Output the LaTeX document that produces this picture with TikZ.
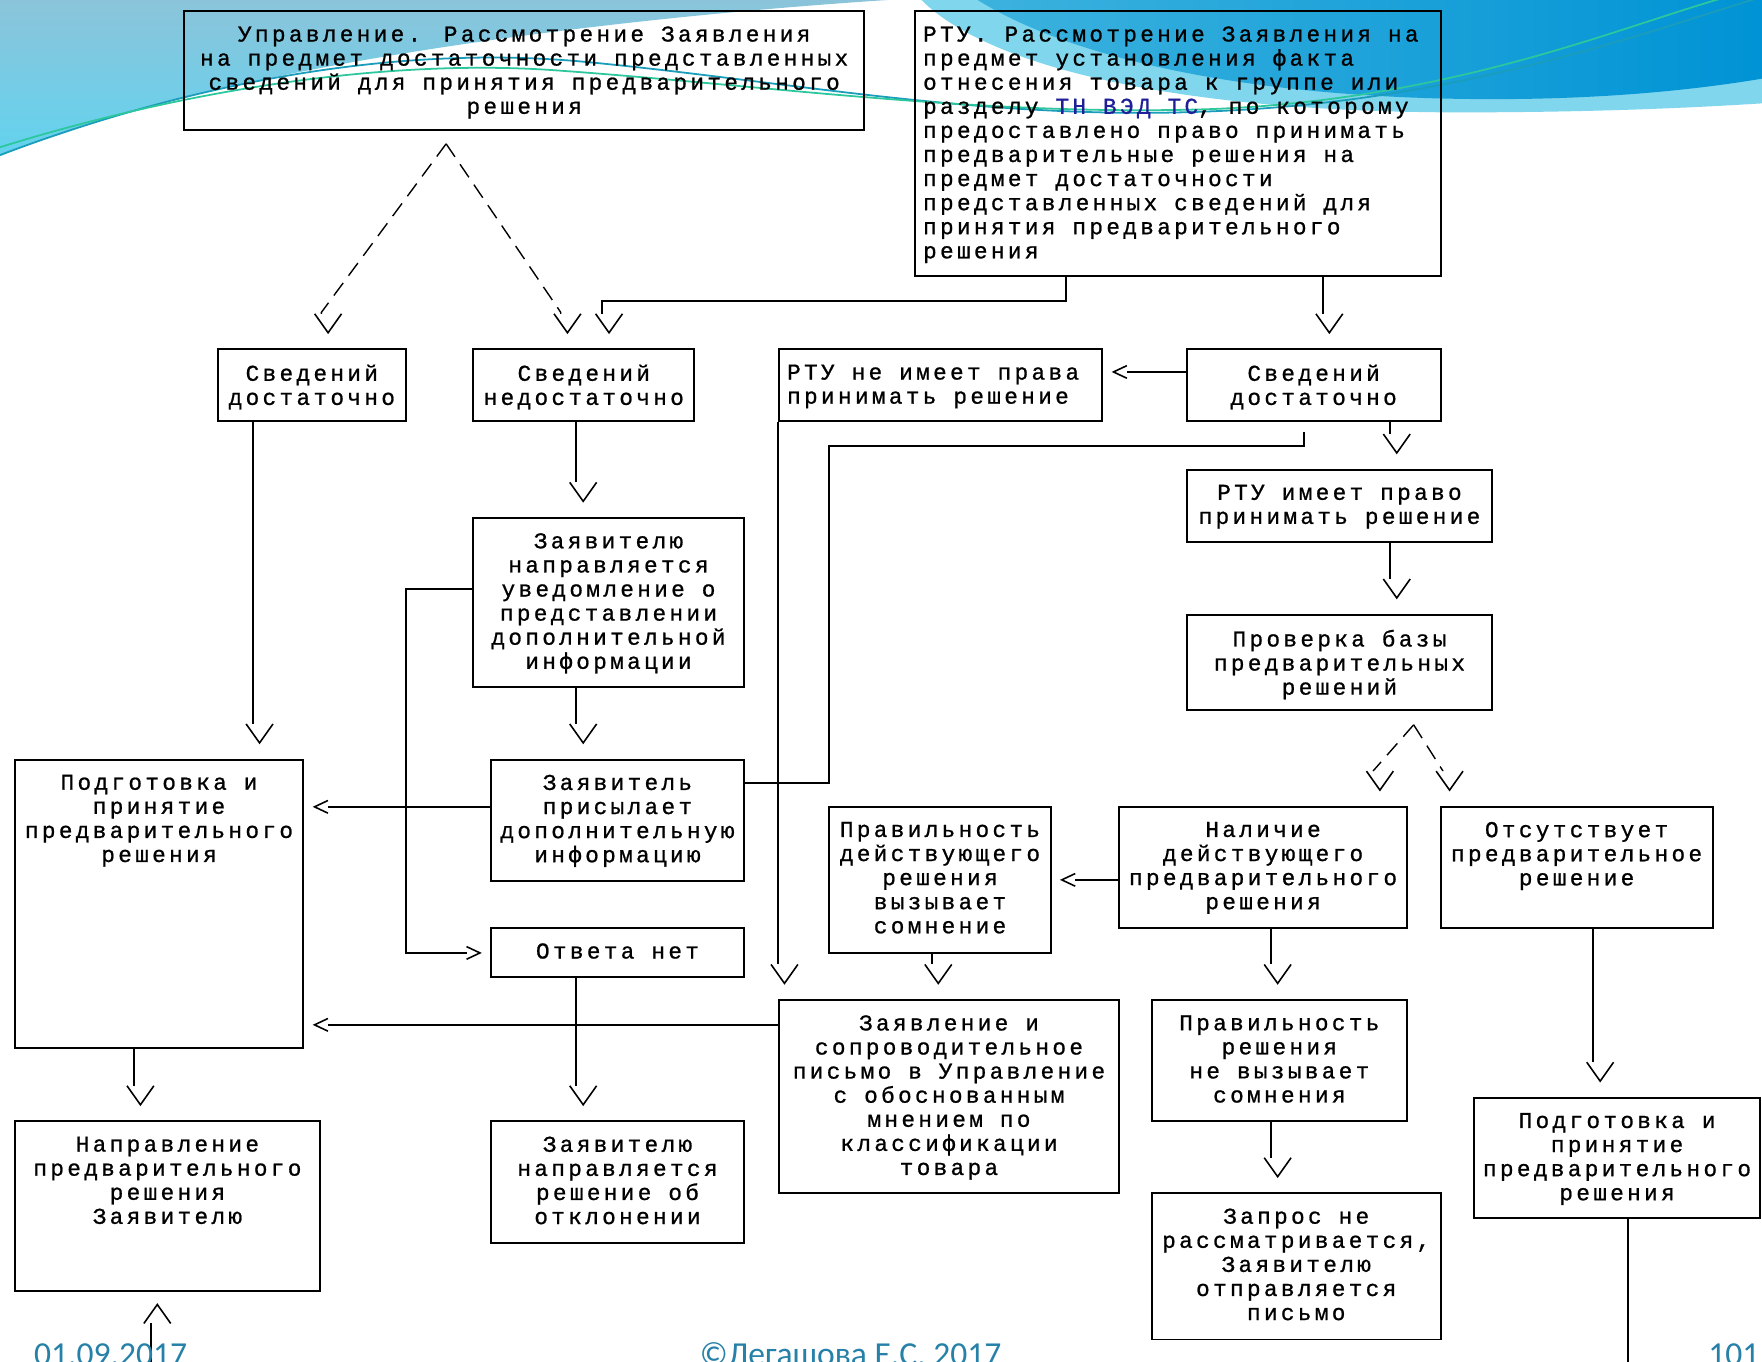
\documentclass[tikz,border=0pt]{standalone}
\usepackage{fontspec}
\newfontfamily\monofnt[LetterSpace=14.7,FakeBold=0.9]{Liberation Mono}
\newfontfamily\footfnt{Carlito}
\usetikzlibrary{calc,fit,arrows.meta}
\definecolor{tnblue}{HTML}{1F1F99}
\definecolor{footc}{HTML}{2681A8}
\definecolor{bgsteel}{HTML}{8BC4DA}
\definecolor{bgcyan}{HTML}{62D3EF}
\definecolor{bgband}{HTML}{80D6EC}
\definecolor{bgdarkL}{HTML}{3CB2DE}
\definecolor{bgdarkR}{HTML}{0093D5}
\definecolor{swteal}{HTML}{1A9DBB}
\definecolor{swgreen}{HTML}{2CC79C}
\newcommand\boxfont{\monofnt\fontsize{11.5pt}{12.2pt}\selectfont}
\newcommand\footfontcmd{\footfnt\fontsize{17pt}{20pt}\selectfont}

% open V tip, offset sideways (like the "\/" characters of the original)
\pgfdeclarearrow{
  name = Vd,
  defaults = {length = 9.6pt, width = 13.6pt},
  parameters = {\the\pgfarrowlength,\the\pgfarrowwidth},
  setup code = {
    \pgfarrowssettipend{0pt}
    \pgfarrowssetlineend{-\pgfarrowlength}
    \pgfarrowssetbackend{-\pgfarrowlength}
    \pgfarrowssavethe\pgfarrowlength
    \pgfarrowssavethe\pgfarrowwidth
  },
  drawing code = {
    \pgfsetdash{}{0pt}
    \pgfsetlinewidth{0.8pt}
    \pgfpathmoveto{\pgfpoint{-\pgfarrowlength}{0.5*\pgfarrowwidth+3.4pt}}
    \pgfpathlineto{\pgfpoint{0pt}{3.4pt}}
    \pgfpathlineto{\pgfpoint{-\pgfarrowlength}{-0.5*\pgfarrowwidth+3.4pt}}
    \pgfusepathqstroke
  }
}
\pgfdeclarearrow{
  name = Vu,
  defaults = {length = 9.6pt, width = 13.6pt},
  parameters = {\the\pgfarrowlength,\the\pgfarrowwidth},
  setup code = {
    \pgfarrowssettipend{0pt}
    \pgfarrowssetlineend{-\pgfarrowlength}
    \pgfarrowssetbackend{-\pgfarrowlength}
    \pgfarrowssavethe\pgfarrowlength
    \pgfarrowssavethe\pgfarrowwidth
  },
  drawing code = {
    \pgfsetdash{}{0pt}
    \pgfsetlinewidth{0.8pt}
    \pgfpathmoveto{\pgfpoint{-\pgfarrowlength}{0.5*\pgfarrowwidth-3.4pt}}
    \pgfpathlineto{\pgfpoint{0pt}{-3.4pt}}
    \pgfpathlineto{\pgfpoint{-\pgfarrowlength}{-0.5*\pgfarrowwidth-3.4pt}}
    \pgfusepathqstroke
  }
}
\pgfdeclarearrow{
  name = Vs,
  defaults = {length = 6.8pt, width = 6.4pt},
  parameters = {\the\pgfarrowlength,\the\pgfarrowwidth},
  setup code = {
    \pgfarrowssettipend{0pt}
    \pgfarrowssetlineend{-\pgfarrowlength}
    \pgfarrowssetbackend{-\pgfarrowlength}
    \pgfarrowssavethe\pgfarrowlength
    \pgfarrowssavethe\pgfarrowwidth
  },
  drawing code = {
    \pgfsetdash{}{0pt}
    \pgfsetlinewidth{0.8pt}
    \pgfpathmoveto{\pgfpoint{-\pgfarrowlength}{0.5*\pgfarrowwidth}}
    \pgfpathlineto{\pgfpoint{0pt}{0pt}}
    \pgfpathlineto{\pgfpoint{-\pgfarrowlength}{-0.5*\pgfarrowwidth}}
    \pgfusepathqstroke
  }
}

\begin{document}
\lineskiplimit=-30pt
\begin{tikzpicture}[x=0.02cm,y=-0.02cm,
  box/.style={draw, line width=1pt, inner sep=0pt},
  txt/.style={font=\boxfont, inner sep=0pt, align=center, anchor=north},
  ltxt/.style={txt, align=left, anchor=north west},
  plain/.style={line width=1pt},
  conn/.style={line width=1pt, -{Vd}, shorten >=0.28cm},
  upconn/.style={line width=1pt, -{Vu}, shorten >=0.22cm},
  sconn/.style={line width=1pt, -{Vs}, shorten >=0.18cm},
  dconn/.style={line width=0.7pt, dash pattern=on 0.28cm off 0.16cm, -{Vd}, shorten >=0.28cm},
  foot/.style={font=\footfontcmd, text=footc, inner sep=0pt}
]
\useasboundingbox (0,0) rectangle (1568,1212);
\clip (0,0) rectangle (1568,1212);

% ---------- slide background ----------
\fill[white] (0,0) rectangle (1568,1212);
\shade[top color=bgsteel, bottom color=bgcyan]
  (0,0) -- (790,0) .. controls (560,15) and (200,55) .. (0,139) -- cycle;
\fill[bgband]
  (820,0) .. controls (880,60) and (1050,100) .. (1300,100)
  .. controls (1430,100) and (1520,95) .. (1568,92) -- (1568,0) -- cycle;
\shade[left color=bgdarkL, right color=bgdarkR]
  (870,0) .. controls (950,50) and (1100,85) .. (1300,88)
  .. controls (1430,90) and (1520,78) .. (1568,70) -- (1568,0) -- cycle;
\draw[swteal, line width=0.9pt]
  (0,138) .. controls (180,70) and (360,40) .. (520,55)
  .. controls (700,72) and (880,108) .. (1080,99)
  .. controls (1300,90) and (1460,30) .. (1575,-5);
\draw[swgreen, line width=0.9pt]
  (0,131) .. controls (180,75) and (360,52) .. (500,63)
  .. controls (680,76) and (880,104) .. (1080,97)
  .. controls (1300,88) and (1450,20) .. (1545,-5);

% ---------- boxes ----------
\node[box, fit={(164,10) (769,116)}]   (B1) {};
\node[box, fit={(814,10) (1282,246)}]  (B2) {};
\node[box, fit={(194,311) (361,375)}]  (B3) {};
\node[box, fit={(421,311) (618,375)}]  (B4) {};
\node[box, fit={(693,311) (981,375)}]  (B5) {};
\node[box, fit={(1056,311) (1282,375)}] (B6) {};
\node[box, fit={(1056,418) (1328,482)}] (B7) {};
\node[box, fit={(1056,547) (1328,632)}] (B8) {};
\node[box, fit={(421,461) (662,611)}]  (B9) {};
\node[box, fit={(13,676) (270,933)}]   (B10) {};
\node[box, fit={(437,676) (662,784)}]  (B11) {};
\node[box, fit={(437,826) (662,869)}]  (B12) {};
\node[box, fit={(738,718) (935,848)}]  (B13) {};
\node[box, fit={(996,718) (1252,826)}] (B14) {};
\node[box, fit={(1282,718) (1524,826)}] (B15) {};
\node[box, fit={(693,890) (996,1062)}] (B16) {};
\node[box, fit={(1025,890) (1252,998)}] (B17) {};
\node[box, fit={(1025,1062) (1282,1192)}] (B18) {};
\node[box, fit={(1312,977) (1566,1084)}] (B19) {};
\node[box, fit={(13,998) (285,1149)}]  (B20) {};
\node[box, fit={(437,998) (662,1106)}] (B21) {};

% ---------- texts ----------
\node[txt] (B1t) at ($(B1.north)+(0,14)$)
  {Управление. Рассмотрение Заявления\\на предмет достаточности представленных\\сведений для принятия предварительного\\решения};
\node[ltxt] (B2t) at ($(B2.north west)+(8,14)$)
  {РТУ. Рассмотрение Заявления на\\предмет установления факта\\отнесения товара к группе или\\разделу \textcolor{tnblue}{ТН ВЭД ТС}, по которому\\предоставлено право принимать\\предварительные решения на\\предмет достаточности\\представленных сведений для\\принятия предварительного\\решения};
\node[txt] (B3t) at ($(B3.north)+(0,14)$) {Сведений\\достаточно};
\node[txt] (B4t) at ($(B4.north)+(0,14)$) {Сведений\\недостаточно};
\node[ltxt] (B5t) at ($(B5.north west)+(8,14)$) {РТУ не имеет права\\принимать решение};
\node[txt] (B6t) at ($(B6.north)+(0,14)$) {Сведений\\достаточно};
\node[txt] (B7t) at ($(B7.north)+(0,14)$) {РТУ имеет право\\принимать решение};
\node[txt] (B8t) at ($(B8.north)+(0,14)$) {Проверка базы\\предварительных\\решений};
\node[txt] (B9t) at ($(B9.north)+(0,14)$) {Заявителю\\направляется\\уведомление о\\представлении\\дополнительной\\информации};
\node[txt] (B10t) at ($(B10.north)+(0,14)$) {Подготовка и\\принятие\\предварительного\\решения};
\node[txt] (B11t) at ($(B11.north)+(0,14)$) {Заявитель\\присылает\\дополнительную\\информацию};
\node[txt] (B12t) at ($(B12.north)+(0,14)$) {Ответа нет};
\node[txt] (B13t) at ($(B13.north)+(0,14)$) {Правильность\\действующего\\решения\\вызывает\\сомнение};
\node[txt] (B14t) at ($(B14.north)+(0,14)$) {Наличие\\действующего\\предварительного\\решения};
\node[txt] (B15t) at ($(B15.north)+(0,14)$) {Отсутствует\\предварительное\\решение};
\node[txt] (B16t) at ($(B16.north)+(0,14)$) {Заявление и\\сопроводительное\\письмо в Управление\\с обоснованным\\мнением по\\классификации\\товара};
\node[txt] (B17t) at ($(B17.north)+(0,14)$) {Правильность\\решения\\не вызывает\\сомнения};
\node[txt] (B18t) at ($(B18.north)+(0,14)$) {Запрос не\\рассматривается,\\Заявителю\\отправляется\\письмо};
\node[txt] (B19t) at ($(B19.north)+(0,14)$) {Подготовка и\\принятие\\предварительного\\решения};
\node[txt] (B20t) at ($(B20.north)+(0,14)$) {Направление\\предварительного\\решения\\Заявителю};
\node[txt] (B21t) at ($(B21.north)+(0,14)$) {Заявителю\\направляется\\решение об\\отклонении};

% ---------- helper coordinates ----------
\coordinate (k119) at (119,0);
\coordinate (k134) at (134,0);
\coordinate (k225) at (225,0);
\coordinate (k361) at (361,0);
\coordinate (k513) at (513,0);
\coordinate (k536) at (536,0);
\coordinate (k738) at (738,0);
\coordinate (k829) at (829,0);
\coordinate (k949) at (949,0);
\coordinate (k1131) at (1131,0);
\coordinate (k1160) at (1160,0);
\coordinate (k1177) at (1177,0);
\coordinate (k1237) at (1237,0);
\coordinate (k1418) at (1418,0);
\coordinate (k1449) at (1449,0);
\coordinate (r268) at (0,268);
\coordinate (r331) at (0,331);
\coordinate (r384) at (0,384);
\coordinate (r397) at (0,397);
\coordinate (r524) at (0,524);
\coordinate (r697) at (0,697);
\coordinate (r718) at (0,718);
\coordinate (r783) at (0,783);
\coordinate (r848) at (0,848);
\coordinate (r912) at (0,912);
\coordinate (bot) at (0,1215);

% ---------- connectors ----------
\coordinate (apx) at (397,128);
\coordinate (dl) at (286,278);
\coordinate (dr) at (499,278);
\draw[dconn] (apx) -- (dl) -- (dl |- B3.north);
\draw[dconn] (apx) -- (dr) -- (dr |- B4.north);

\draw[conn] (B2.south -| k949) -- (k949 |- r268) -| (B4.north -| k536);
\draw[conn] (B2.south -| k1177) -- (B6.north -| k1177);

\draw[sconn] (B6.west |- r331) -- (B5.east |- r331);
\draw[conn] (B6.south -| k1237) -- (B7.north -| k1237);
\draw[conn] (B7.south -| k1237) -- (B8.north -| k1237);

\coordinate (apx2) at (1258,645);
\coordinate (el) at (1222,686);
\coordinate (er) at (1284,686);
\draw[dconn] (apx2) -- (el) -- (el |- B14.north);
\draw[dconn] (apx2) -- (er) -- (er |- B15.north);

\draw[sconn] (B14.west |- r783) -- (B13.east |- r783);
\draw[conn] (B13.south -| k829) -- (B16.north -| k829);
\draw[conn] (B14.south -| k1131) -- (B17.north -| k1131);
\draw[conn] (B17.south -| k1131) -- (B18.north -| k1131);
\draw[conn] (B15.south -| k1418) -- (B19.north -| k1418);
\draw[plain] (B19.south -| k1449) -- (k1449 |- bot);

\draw[conn] (B5.south west) -- (B16.north west);

\draw[conn] (B3.south -| k225) -- (B10.north -| k225);
\draw[conn] (B4.south -| k513) -- (B9.north -| k513);
\draw[conn] (B9.south -| k513) -- (B11.north -| k513);
\draw[sconn] (B9.west |- r524) -| (k361 |- r848) -- (B12.west |- r848);
\draw[sconn] (B11.west |- r718) -- (B10.east |- r718);
\draw[plain] (B11.east |- r697) -| (k738 |- r397) -| (k1160 |- r384);
\draw[conn] (B12.south -| k513) -- (B21.north -| k513);
\draw[sconn] (B16.west |- r912) -- (B10.east |- r912);
\draw[conn] (B10.south -| k119) -- (B20.north -| k119);
\draw[upconn] (k134 |- bot) -- (B20.south -| k134);

% ---------- footer ----------
\node[foot, anchor=base west] (fdate) at (30,1215) {01.09.2017};
\node[foot, anchor=base] (fcopy) at (757,1215) {©Легашова Е.С. 2017};
\node[foot, anchor=base east] (fpage) at (1566,1215) {101};
\end{tikzpicture}
\end{document}
